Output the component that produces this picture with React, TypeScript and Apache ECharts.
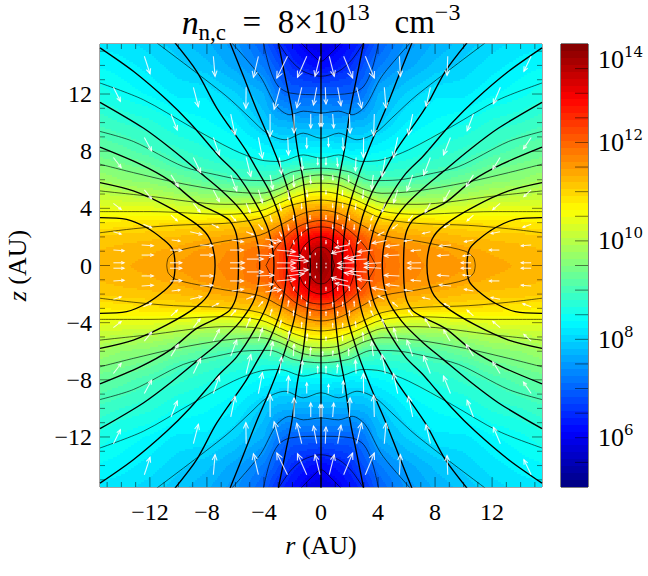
import React, { useEffect, useRef } from "react";
import * as echarts from "echarts";

const SERIF = "Liberation Serif";
const LIM = 15.5;

// log10(n), one quadrant (the map is mirrored about both axes)
const rNodes = [0, 1, 2, 3, 4, 6, 8, 10, 12, 14, 15.5];
const zNodes = [0, 1, 2, 3, 4, 5, 6, 7, 8, 10, 12, 14, 15.5];
const logDensity = [
  [13.9, 13.45, 12.8, 12.3, 11.97, 11.68, 11.57, 11.5, 11.4, 11.3, 11.25],
  [13.65, 13.3, 12.75, 12.25, 11.95, 11.65, 11.52, 11.4, 11.3, 11.25, 11.2],
  [13.0, 12.85, 12.45, 12.05, 11.57, 11.41, 11.3, 11.2, 11.15, 11.12, 11.07],
  [12.17, 12.0, 11.75, 11.36, 11.16, 11.03, 10.97, 10.9, 10.88, 10.82, 10.76],
  [11.41, 11.35, 11.14, 10.8, 10.44, 10.24, 10.2, 10.3, 10.39, 10.41, 10.42],
  [10.64, 10.59, 10.33, 9.89, 9.59, 9.55, 9.62, 9.79, 9.93, 10.0, 10.07],
  [9.79, 9.74, 9.5, 9.15, 9.0, 9.0, 9.15, 9.36, 9.56, 9.65, 9.8],
  [8.86, 8.85, 8.77, 8.63, 8.63, 8.75, 8.87, 8.98, 9.25, 9.4, 9.5],
  [8.32, 8.3, 8.25, 8.26, 8.35, 8.5, 8.69, 8.84, 8.97, 9.15, 9.25],
  [7.69, 7.65, 7.7, 7.75, 7.9, 8.25, 8.4, 8.5, 8.7, 8.8, 8.9],
  [7.0, 7.0, 6.98, 7.18, 7.68, 7.98, 8.2, 8.2, 8.35, 8.47, 8.6],
  [6.14, 6.3, 6.5, 6.85, 7.2, 7.6, 7.85, 8.0, 8.17, 8.3, 8.35],
  [5.85, 5.95, 6.25, 6.5, 6.95, 7.45, 7.7, 7.88, 8.03, 8.15, 8.2],
];

// thin lines: density contours, [r, z] in AU, upper half
const contours: number[][][] = [
  [[1.4, 15.58], [0.6, 14.76], [0, 14.29]],
  [[2.98, 15.58], [2.17, 14.41], [1.24, 13.59], [0, 13.24]],
  [[4.04, 15.58], [3.57, 13.71], [3, 12.54], [2.17, 12.07], [0, 11.95]],
  [[6.26, 15.58], [4.27, 13.24], [3.1, 11.14], [2.18, 10.55], [1.24, 10.8], [0, 10.67]],
  [[11.52, 15.58], [6.73, 11.93], [4.97, 10.32], [3.8, 9.26], [2.52, 8.8], [1.24, 9.26], [0, 8.9]],
  [[15.5, 12.77], [12.46, 11.6], [9.18, 9.73], [6.14, 8.09], [4.27, 7.39], [2.87, 7.28], [1.23, 7.74], [0, 7.51]],
  [[15.5, 9.38], [13.16, 8.68], [9.65, 6.92], [7.31, 6.34], [5.44, 5.99], [3.57, 5.94], [1.93, 6.57], [0, 6.81]],
  [[15.5, 7.09], [13.16, 6.5], [10.12, 5.8], [6.73, 5.22], [4.27, 5.05], [2.87, 5.4], [1.46, 6.11], [0, 6.34]],
  [[15.5, 5.22], [12.23, 4.87], [6.73, 4.28], [4.27, 4.4], [2.63, 5.05], [1.23, 5.64], [0, 5.76]],
  [[15.5, 3.77], [11.99, 3.77], [6.73, 3.58], [4.27, 3.81], [2.4, 4.59], [1.0, 5.05], [0, 5.17]],
  [[15.5, 2.29], [13.16, 2.57], [10.35, 2.81], [6.73, 2.95], [4.27, 3.3], [2.4, 4.12], [1, 4.47], [0, 4.58]],
  [[10.82, 0], [10.7, 0.54], [10.12, 1.0], [8.01, 1.47], [6.73, 1.71], [4.27, 2.13], [2.63, 2.95], [1.23, 3.65], [0, 3.88]],
  [[3.86, 0], [3.04, 1.4], [1.64, 2.69], [0, 3.15]],
  [[2.46, 0], [2.0, 1.5], [1, 2.5], [0, 2.7]],
  [[1.68, 0], [1.3, 1.2], [0.7, 1.8], [0, 2.0]],
  [[0.94, 0], [0.7, 0.8], [0.35, 1.2], [0, 1.29]],
];

// thick lines: field lines, [r, z] in AU, from the midplane outward
const fieldLines: number[][][] = [
  [[10.24, 0], [10.4, 1.12], [11.06, 1.82], [12.22, 2.64], [13.63, 3.23], [15.5, 3.35]],
  [[7.43, 0], [7.78, 1.82], [8.72, 2.88], [10.82, 4.16], [13.16, 5.22], [15.5, 5.8]],
  [[5.79, 0], [5.91, 2.06], [6.38, 3.11], [7.08, 3.58], [8.72, 4.4], [10.59, 5.92], [12.69, 7.09], [15.5, 8.28]],
  [[4.3, 0], [4.65, 2.29], [5.68, 3.93], [7.08, 5.33], [8.48, 6.5], [10.47, 8.14], [12.46, 9.62], [15.5, 11.42]],
  [[3.3, 0], [3.7, 2.53], [4.74, 4.63], [5.91, 6.39], [7.08, 7.56], [7.55, 8.09], [9.18, 9.97], [10.82, 11.6], [13.16, 13.59], [15.5, 15.23]],
  [[2.4, 0], [2.8, 3], [3.57, 5.1], [4.51, 6.74], [5.32, 8.14], [7.31, 11.02], [8.72, 13.59], [10.24, 15.58]],
  [[1.5, 0], [1.82, 3.46], [2.63, 6.27], [3.34, 8.14], [3.8, 9.26], [4.51, 10.9], [5.44, 13.24], [6.38, 15.58]],
  [[0.75, 0], [0.88, 2.29], [1.23, 5.8], [1.65, 8.14], [2.05, 10.9], [2.52, 13.24], [2.99, 15.58]],
  [[0, 0], [0, 15.58]],
];

// arrows [r, z, dr, dz] in AU, read on the left half (r measured outward)
const arrowsLeft = [
  [12.39, 14.64, -0.4, -1.22], [7.55, 14.64, -0.12, -1.4], [4.39, 14.64, 0.35, -1.47], [2.35, 14.64, 0.75, -1.52], [1.0, 14.64, 0.65, -1.47], [0.07, 14.64, 0.35, -1.4],
  [14.56, 12.47, -0.49, -0.98], [8.95, 12.47, -0.35, -1.36], [5.25, 12.47, 0.02, -1.47], [2.87, 12.47, 0.42, -1.54], [1.35, 12.47, 0.35, -1.43], [0.3, 12.47, 0.23, -1.24],
  [10.52, 10.6, -0.44, -1.12], [6.33, 10.6, -0.3, -1.45], [3.57, 10.6, 0, -1.57], [1.89, 10.6, 0, -1.33], [0.72, 10.6, 0, -0.98], [0.07, 10.6, 0, -0.87],
  [12.39, 8.96, -0.51, -0.94], [7.55, 8.96, -0.42, -1.22], [4.39, 8.96, -0.28, -1.45], [2.33, 8.96, -0.05, -1.22], [1.0, 8.96, 0, -0.75],
  [14.56, 7.56, -0.54, -0.7], [8.95, 7.56, -0.51, -1.05], [5.25, 7.56, -0.33, -1.33], [2.92, 7.56, -0.16, -1.15], [1.37, 7.56, -0.07, -0.87], [0.23, 7.56, 0, -0.5],
  [10.52, 6.34, -0.51, -0.82], [6.33, 6.34, -0.42, -1.12], [3.57, 6.34, -0.19, -1.0], [1.94, 6.34, -0.05, -0.82], [0.77, 6.34, -0.05, -0.58],
  [12.39, 5.29, -0.51, -0.63], [7.55, 5.29, -0.42, -0.82], [4.39, 5.29, -0.28, -0.89], [2.33, 5.29, -0.12, -0.7], [1.0, 5.29, -0.05, -0.47],
  [14.56, 4.35, -0.54, -0.42], [8.95, 4.35, -0.47, -0.61], [5.25, 4.35, -0.28, -0.65], [2.92, 4.35, -0.12, -0.5], [1.37, 4.35, -0.02, -0.35],
  [10.52, 3.53, -0.44, -0.4], [6.33, 3.53, -0.35, -0.4], [3.57, 3.53, -0.12, -0.45], [1.94, 3.53, -0.02, -0.35], [0.77, 3.53, 0, -0.28],
  [12.46, 2.88, -0.58, -0.23], [7.66, 2.88, -0.47, -0.23], [4.39, 2.88, -0.3, -0.35], [2.33, 2.88, -0.07, -0.4], [1, 2.88, 0, -0.28],
  [14.56, 2.36, -0.54, -0.16], [9.18, 2.36, -0.82, -0.19], [5.25, 2.36, -0.5, -0.2], [2.92, 2.36, -0.15, -0.3], [1.37, 2.36, 0, -0.25],
  [10.47, 1.78, -0.58, -0.07], [6.26, 1.78, -0.82, -0.12], [3.57, 1.78, -0.4, -0.25], [1.94, 1.78, -0.05, -0.25],
  [12.58, 1.43, -0.82, -0.05], [8.48, 1.43, -0.9, -0.05], [4.51, 1.43, -1.17, -0.12],
  [14.56, 1.08, -0.75, -0.05], [10.59, 1.08, -0.82, -0.02], [6.38, 1.08, -0.94, 0], [3.1, 1.08, -1.3, -0.12],
  [12.58, 0.73, -0.82, 0], [8.48, 0.73, -0.9, 0], [4.51, 0.73, -1.2, -0.05], [2.4, 0.73, -1.2, -0.15], [0.77, 0.73, 0, -0.15],
  [14.56, 0.19, -0.75, 0], [10.59, 0.19, -0.82, 0], [6.38, 0.19, -1, 0], [3.1, 0.19, -1.3, -0.02], [0.3, 0.19, 0, -0.1],
  [2.1, 0.4, -1.2, -0.1], [5.2, 0.45, -1.15, 0], [3.9, 1.85, -1.1, -0.15], [1.1, 1.3, 0, -0.15], [0.4, 0.9, 0, -0.12],
];

// arrows [r, z, dr, dz] in AU, read on the right half
const arrowsRight = [
  [0.58, 14.64, 0.35, -1.4], [1.59, 14.64, 0.63, -1.52], [3.11, 14.64, 0.63, -1.52], [5.5, 14.64, 0.07, -1.4], [8.89, 14.64, -0.05, -1.33], [14.74, 14.64, -0.51, -1.05],
  [0.3, 12.47, 0.05, -1.17], [1.17, 12.47, 0.23, -1.29], [2.5, 12.47, 0.35, -1.45], [4.44, 12.47, 0.12, -1.45], [7.67, 12.47, -0.3, -1.33], [12.58, 12.47, -0.49, -1.15],
  [0.07, 10.6, 0, -0.87], [0.82, 10.6, 0.07, -0.98], [1.99, 10.6, 0.05, -1.33], [3.74, 10.6, -0.05, -1.52], [6.43, 10.6, -0.3, -1.45], [10.69, 10.6, -0.44, -1.17],
  [0.51, 8.96, 0.02, -0.63], [1.52, 8.96, 0.05, -0.87], [2.99, 8.96, -0.02, -1.4], [5.38, 8.96, -0.3, -1.4], [9.08, 8.96, -0.49, -1.22], [14.74, 8.96, -0.54, -0.8],
  [0.35, 7.56, 0, -0.51], [1.12, 7.56, 0.05, -0.63], [2.46, 7.56, -0.05, -0.94], [4.51, 7.56, -0.23, -1.33], [7.67, 7.56, -0.47, -1.22], [12.56, 7.56, -0.51, -0.82],
  [0.12, 6.34, 0, -0.3], [0.82, 6.34, 0.02, -0.35], [1.94, 6.34, 0, -0.47], [3.67, 6.34, -0.12, -1.0], [6.43, 6.34, -0.4, -1.1], [10.69, 6.34, -0.51, -0.82],
  [0.35, 5.29, 0, -0.28], [1.52, 5.29, -0.02, -0.35], [2.99, 5.29, -0.07, -0.58], [5.38, 5.29, -0.28, -0.89], [9.05, 5.29, -0.44, -0.77], [14.74, 5.29, -0.51, -0.47],
  [0.82, 4.35, 0, -0.28], [1.52, 4.35, 0, -0.28], [2.46, 4.35, -0.05, -0.4], [4.51, 4.35, -0.23, -0.58], [7.67, 4.35, -0.37, -0.63], [12.56, 4.35, -0.51, -0.44],
  [0.35, 3.53, 0, -0.28], [1.17, 3.53, 0, -0.28], [1.99, 3.53, 0, -0.35], [3.67, 3.53, -0.16, -0.35], [6.43, 3.53, -0.3, -0.4], [10.69, 3.53, -0.44, -0.4],
  [0.82, 2.88, 0, -0.28], [1.52, 2.88, 0, -0.3], [2.34, 2.88, -0.02, -0.35], [3.5, 2.88, -0.12, -0.4], [5.38, 2.88, -0.35, -0.3], [9.05, 2.88, -0.4, -0.21], [14.74, 2.88, -0.58, -0.21],
  [4.44, 2.36, -0.42, -0.23], [7.67, 2.36, -0.54, -0.12], [12.56, 2.36, -0.63, -0.12],
  [0.35, 1.78, 0, -0.23], [1.17, 1.78, 0, -0.23], [1.99, 1.78, -0.02, -0.28], [2.81, 1.78, -0.23, -0.23], [6.43, 1.78, -0.58, -0.07], [10.69, 1.78, -0.63, -0.12],
  [5.5, 1.43, -0.94, -0.09], [9.12, 1.43, -0.82, -0.07], [14.74, 1.43, -0.7, -0.05],
  [0.82, 1.08, 0, -0.18], [3.63, 1.08, -1.05, -0.12], [7.02, 1.08, -0.7, -0.05], [12.51, 1.08, -0.7, 0],
  [2.81, 0.73, -1.17, -0.23], [5.5, 0.73, -1.05, -0.05], [9, 0.73, -0.82, -0.05], [10.53, 0.73, -0.58, -0.07],
  [4.21, 0.19, -1.17, -0.07], [2.34, 0.19, -1.17, -0.05], [7.02, 0.19, -0.94, -0.02], [10.53, 0.19, -0.7, 0], [14.74, 0.19, -0.7, 0], [0.35, 0.19, 0, -0.07],
  [1.9, 1.1, -1.15, -0.25], [3.2, 0.45, -1.2, -0.05], [2.0, 1.45, -1, -0.2], [4.6, 1.75, -1.0, -0.2],
];

const axisTickLabels = [-12, -8, -4, 0, 4, 8, 12];
const axisMarks = [-15, -14, -13, -12, -11, -10, -9, -8, -7, -6, -5, -4, -3, -2, -1, 0, 1, 2, 3, 4, 5, 6, 7, 8, 9, 10, 11, 12, 13, 14, 15];
const cbRange = [5, 14];
const cbLabels = [6, 8, 10, 12, 14];
const cbMarks = [5.5, 6, 6.5, 7, 7.5, 8, 8.5, 9, 9.5, 10, 10.5, 11, 11.5, 12, 12.5, 13, 13.5];

const LEVELS = 64;
function jet(v: number): string {
  const t = Math.max(0, Math.min(1, (v - cbRange[0]) / (cbRange[1] - cbRange[0])));
  const q = (Math.min(LEVELS - 1, Math.floor(t * LEVELS)) + 0.5) / LEVELS;
  const c = (x: number) => Math.round(255 * Math.max(0, Math.min(1, 1.5 - Math.abs(4 * q - x))));
  return `rgb(${c(3)},${c(2)},${c(1)})`;
}

const fieldCells: number[][] = [];
for (const sr of [-1, 1]) {
  for (const sz of [-1, 1]) {
    for (let j = 0; j < zNodes.length - 1; j++) {
      for (let i = 0; i < rNodes.length - 1; i++) {
        fieldCells.push([
          sr * rNodes[i], sz * zNodes[j], sr * rNodes[i + 1], sz * zNodes[j + 1],
          logDensity[j][i], logDensity[j][i + 1], logDensity[j + 1][i], logDensity[j + 1][i + 1],
        ]);
      }
    }
  }
}

function renderField(_p: any, api: any) {
  const a = api.coord([api.value(0), api.value(1)]);
  const b = api.coord([api.value(2), api.value(3)]);
  const [v00, v10, v01, v11] = [api.value(4), api.value(5), api.value(6), api.value(7)];
  const x0 = Math.round(a[0]), x1 = Math.round(b[0]), y0 = Math.round(a[1]), y1 = Math.round(b[1]);
  const xs = Math.min(x0, x1), xe = Math.max(x0, x1), ys = Math.min(y0, y1), ye = Math.max(y0, y1);
  const children: any[] = [];
  const step = 2;
  for (let y = ys; y < ye; y += step) {
    const h = Math.min(step, ye - y);
    const w = (y + h / 2 - y0) / (y1 - y0);
    let start = xs;
    let col = "";
    for (let x = xs; x <= xe; x++) {
      let c = "";
      if (x < xe) {
        const u = (x + 0.5 - x0) / (x1 - x0);
        c = jet((1 - w) * ((1 - u) * v00 + u * v10) + w * ((1 - u) * v01 + u * v11));
      }
      if (c !== col) {
        if (col) children.push({ type: "rect", shape: { x: start, y, width: x - start, height: h }, style: { fill: col }, silent: true });
        start = x;
        col = c;
      }
    }
  }
  return { type: "group", children };
}

function renderArrow(_p: any, api: any) {
  const a = api.coord([api.value(0), api.value(1)]);
  const b = api.coord([api.value(0) + api.value(2), api.value(1) + api.value(3)]);
  const dx = b[0] - a[0], dy = b[1] - a[1];
  const len = Math.hypot(dx, dy) || 1;
  const h = len * 0.3;
  const ang = Math.atan2(dy, dx);
  const p1 = [b[0] - h * Math.cos(ang - 0.42), b[1] - h * Math.sin(ang - 0.42)];
  const p2 = [b[0] - h * Math.cos(ang + 0.42), b[1] - h * Math.sin(ang + 0.42)];
  const style = { stroke: "rgba(255,255,255,0.85)", lineWidth: 1.1, fill: "none" };
  return {
    type: "group",
    children: [
      { type: "line", shape: { x1: a[0], y1: a[1], x2: b[0], y2: b[1] }, style },
      { type: "polyline", shape: { points: [p1, b, p2] }, style },
    ],
  };
}

function renderTicks(_p: any, api: any) {
  const v = api.value(0);
  const L = v % 4 === 0 ? 10 : 5;
  const bot = api.coord([v, -LIM]), top = api.coord([v, LIM]);
  const lef = api.coord([-LIM, v]), rig = api.coord([LIM, v]);
  const style = { stroke: "rgba(0,0,0,0.5)", lineWidth: 1 };
  const seg = (x1: number, y1: number, x2: number, y2: number) => ({ type: "line", shape: { x1, y1, x2, y2 }, style });
  return {
    type: "group",
    children: [
      seg(bot[0], bot[1], bot[0], bot[1] - L),
      seg(top[0], top[1], top[0], top[1] + L),
      seg(lef[0], lef[1], lef[0] + L, lef[1]),
      seg(rig[0], rig[1], rig[0] - L, rig[1]),
    ],
  };
}

const cbCells: number[][] = [];
for (let i = 0; i < LEVELS; i++) {
  const s = (cbRange[1] - cbRange[0]) / LEVELS;
  cbCells.push([cbRange[0] + i * s, cbRange[0] + (i + 1) * s]);
}

function lineSeries(data: number[][], width: number, color: string) {
  return {
    type: "line",
    data,
    showSymbol: false,
    silent: true,
    smooth: 0.3,
    clip: true,
    z: 3,
    lineStyle: { color, width },
  };
}

function buildSeries() {
  const out: any[] = [
    { type: "custom", data: fieldCells, renderItem: renderField, encode: { x: 0, y: 1 }, silent: true, clip: true, z: 1 },
  ];
  const thin = "rgba(0,0,0,0.62)";
  for (const c of contours) {
    const upper = [...c, ...c.slice(0, -1).reverse().map(([r, z]) => [-r, z])];
    out.push(lineSeries(upper, 1, thin));
    out.push(lineSeries(upper.map(([r, z]) => [r, -z]), 1, thin));
  }
  for (const f of fieldLines) {
    const right = [...f.slice(1).reverse().map(([r, z]) => [r, -z]), ...f];
    out.push(lineSeries(right, 1.35, "#000"));
    if (f[0][0] !== 0) out.push(lineSeries(right.map(([r, z]) => [-r, z]), 1.35, "#000"));
  }
  const arrows: number[][] = [];
  for (const [r, z, dr, dz] of arrowsLeft) {
    arrows.push([-r, z, -dr, dz], [-r, -z, -dr, -dz]);
  }
  for (const [r, z, dr, dz] of arrowsRight) {
    arrows.push([r, z, dr, dz], [r, -z, dr, -dz]);
  }
  out.push({ type: "custom", data: arrows, renderItem: renderArrow, encode: { x: 0, y: 1 }, silent: true, clip: true, z: 5 });
  out.push({ type: "custom", data: axisMarks.map((v) => [v, 0]), renderItem: renderTicks, encode: { x: 0, y: 1 }, silent: true, z: 6 });
  out.push({
    type: "custom",
    xAxisIndex: 1,
    yAxisIndex: 1,
    data: cbCells.map(([a, b]) => [0, a, b]),
    encode: { x: 0, y: 1 },
    silent: true,
    z: 2,
    renderItem: (_p: any, api: any) => {
      const l = api.coord([0, api.value(1)]);
      const h = api.coord([1, api.value(2)]);
      const y0 = Math.round(h[1]), y1 = Math.round(l[1]);
      return { type: "rect", shape: { x: l[0], y: y0, width: h[0] - l[0], height: y1 - y0 }, style: { fill: jet((api.value(1) + api.value(2)) / 2) } };
    },
  });
  out.push({
    type: "custom",
    xAxisIndex: 1,
    yAxisIndex: 1,
    data: cbMarks.map((v) => [1, v]),
    encode: { x: 0, y: 1 },
    silent: true,
    z: 3,
    renderItem: (_p: any, api: any) => {
      const p = api.coord([1, api.value(1)]);
      return { type: "line", shape: { x1: p[0], y1: p[1], x2: p[0] - 13, y2: p[1] }, style: { stroke: "rgba(0,0,0,0.5)", lineWidth: 1 } };
    },
  });
  return out;
}

export default function App() {
  const ref = useRef<HTMLDivElement>(null);
  useEffect(() => {
    const chart = echarts.init(ref.current!, null, { renderer: "svg" });
    const tickFmt = (v: number) => String(v).replace("-", "\u2212");
    const labelBase = { fontFamily: SERIF, fontSize: 24, color: "#000" };
    const nameBase = { fontFamily: SERIF, fontSize: 26, color: "#000" };
    chart.setOption({
      animation: false,
      backgroundColor: "#fff",
      title: {
        text: "{i|n}{sub|n,c}\u00a0\u00a0=\u00a0\u00a08\u00d710{sup|13}\u00a0\u00a0\u00a0cm{sup|\u22123}",
        left: 321,
        top: 0,
        padding: 0,
        textAlign: "center",
        textStyle: {
          fontFamily: SERIF,
          fontSize: 33,
          lineHeight: 44,
          fontWeight: "normal",
          color: "#000",
          rich: {
            i: { fontFamily: SERIF, fontSize: 34, fontStyle: "italic", lineHeight: 44 },
            sub: { fontFamily: SERIF, fontSize: 23, verticalAlign: "bottom", lineHeight: 26 },
            sup: { fontFamily: SERIF, fontSize: 24, verticalAlign: "top", lineHeight: 22 },
          },
        },
      },
      grid: [
        { left: 100, top: 44, width: 442, height: 443, show: true, borderColor: "rgba(0,0,0,0.7)", borderWidth: 1, backgroundColor: "transparent", outerBoundsMode: "none" },
        { left: 561, top: 44, width: 27, height: 443, show: true, borderColor: "#000", borderWidth: 1, backgroundColor: "transparent", outerBoundsMode: "none" },
      ],
      xAxis: [
        {
          gridIndex: 0,
          type: "value",
          min: -LIM,
          max: LIM,
          name: "{i|r}\u00a0(AU)",
          nameLocation: "middle",
          nameGap: 45,
          nameTextStyle: { ...nameBase, rich: { i: { ...nameBase, fontStyle: "italic" } } },
          axisLine: { show: false },
          axisTick: { show: false },
          splitLine: { show: false },
          axisLabel: { ...labelBase, margin: 13, customValues: axisTickLabels, formatter: tickFmt },
        },
        { gridIndex: 1, type: "value", min: 0, max: 1, show: false },
      ],
      yAxis: [
        {
          gridIndex: 0,
          type: "value",
          min: -LIM,
          max: LIM,
          name: "{i|z}\u00a0(AU)",
          nameLocation: "middle",
          nameGap: 70,
          nameRotate: 90,
          nameTextStyle: { ...nameBase, rich: { i: { ...nameBase, fontStyle: "italic" } } },
          axisLine: { show: false },
          axisTick: { show: false },
          splitLine: { show: false },
          axisLabel: { ...labelBase, margin: 8, customValues: axisTickLabels, formatter: tickFmt },
        },
        {
          gridIndex: 1,
          type: "value",
          position: "right",
          min: cbRange[0],
          max: cbRange[1],
          axisLine: { show: false },
          axisTick: { show: false },
          splitLine: { show: false },
          axisLabel: {
            margin: 10,
            verticalAlignMaxLabel: "top",
            customValues: cbLabels,
            formatter: (v: number) => `{a|10}{b|${v}}`,
            rich: {
              a: { fontFamily: SERIF, fontSize: 26, color: "#000", lineHeight: 30 },
              b: { fontFamily: "DejaVu Serif", fontSize: 15, color: "#000", verticalAlign: "top", lineHeight: 14 },
            },
          },
        },
      ],
      series: buildSeries(),
    });
    return () => chart.dispose();
  }, []);
  return <div ref={ref} style={{ position: "absolute", left: 0, top: 0, width: 648, height: 576 }} />;
}
